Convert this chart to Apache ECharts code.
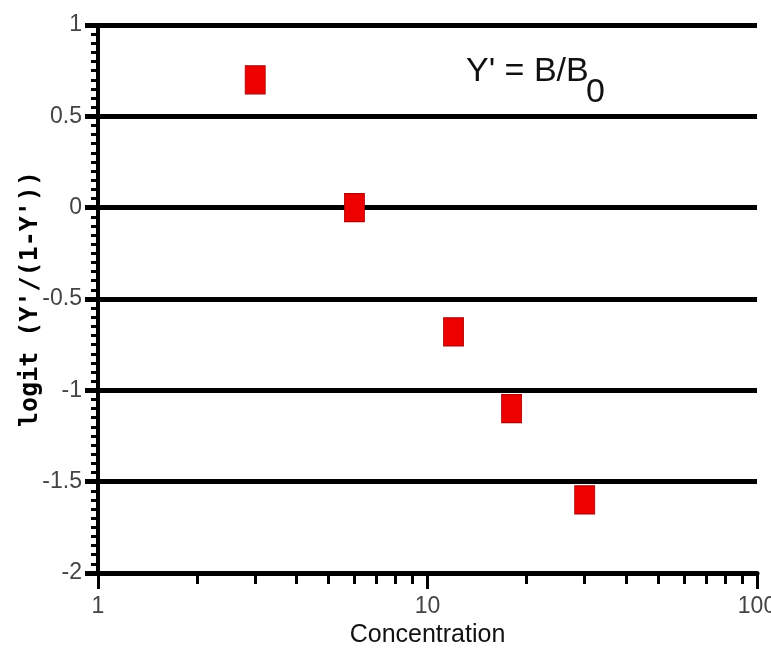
<!DOCTYPE html>
<html>
<head>
<meta charset="utf-8">
<script src="https://cdn.jsdelivr.net/npm/echarts@6/dist/echarts.min.js"></script>
<style>html,body{margin:0;padding:0;background:#fff}#c{width:771px;height:665px}</style>
</head>
<body>
<div id="c"></div>
<script>
const concentration = [3, 6, 12, 18, 30];
const logitValues = [0.70, 0.00, -0.68, -1.10, -1.60];
const xMajorTicks = [1, 10, 100];
const xMinorTicks = [2, 3, 4, 5, 6, 7, 8, 9, 20, 30, 40, 50, 60, 70, 80, 90];
const yTicks = [-2, -1.5, -1, -0.5, 0, 0.5, 1];

const FONT = '"Liberation Sans", Arial, sans-serif';
const chart = echarts.init(document.getElementById('c'), null, {renderer: 'canvas'});
chart.setOption({
  animation: false,
  backgroundColor: '#fff',
  grid: {left: 98, right: 14, top: 25, bottom: 92, containLabel: false, outerBoundsMode: 'none'},
  xAxis: [{
    type: 'log', logBase: 10, min: 1, max: 100,
    name: 'Concentration', nameLocation: 'middle', nameGap: 50, nameMoveOverlap: false,
    nameTextStyle: {color: '#111', fontFamily: FONT, fontSize: 25},
    axisLine: {show: true, onZero: false, lineStyle: {color: '#000', width: 5}},
    axisTick: {show: true, length: 16, lineStyle: {color: '#000', width: 3}, customValues: xMajorTicks},
    axisLabel: {color: '#444', fontFamily: FONT, fontSize: 23, margin: 22, customValues: xMajorTicks},
    splitLine: {show: false}
  }, {
    type: 'log', logBase: 10, min: 1, max: 100, position: 'bottom', gridIndex: 0,
    axisLine: {show: false, onZero: false},
    axisTick: {show: true, length: 11, lineStyle: {color: '#000', width: 3}, customValues: xMinorTicks},
    axisLabel: {show: false},
    splitLine: {show: false}
  }],
  yAxis: {
    type: 'value', min: -2, max: 1, interval: 0.5,
    name: "logit (Y'/(1-Y'))", nameLocation: 'middle', nameGap: 55, nameRotate: 90, nameMoveOverlap: false,
    nameTextStyle: {color: '#000', fontFamily: '"DejaVu Sans Mono", monospace', fontWeight: 'bold', fontSize: 25},
    axisLine: {show: true, onZero: false, lineStyle: {color: '#000', width: 4}},
    axisTick: {show: true, length: 13, lineStyle: {color: '#000', width: 5}},
    minorTick: {show: true, splitNumber: 10, length: 7, lineStyle: {color: '#000', width: 3}},
    axisLabel: {color: '#444', fontFamily: FONT, fontSize: 23, margin: 16,
      customValues: yTicks, formatter: v => String(v)},
    splitLine: {show: true, lineStyle: {color: '#000', width: 5}}
  },
  graphic: [
    {type: 'text', left: 466, top: 55, style: {text: "Y' = B/B", fill: '#111', font: '34px ' + FONT}},
    {type: 'text', left: 586, top: 76, style: {text: '0', fill: '#111', font: '34px ' + FONT}}
  ],
  series: [{
    type: 'scatter', xAxisIndex: 0,
    symbol: 'rect', symbolSize: [20, 28],
    itemStyle: {color: '#ec0000', opacity: 1, borderColor: '#b00000', borderWidth: 1},
    data: concentration.map((c, i) => [c, logitValues[i]])
  }]
});
</script>
</body>
</html>
